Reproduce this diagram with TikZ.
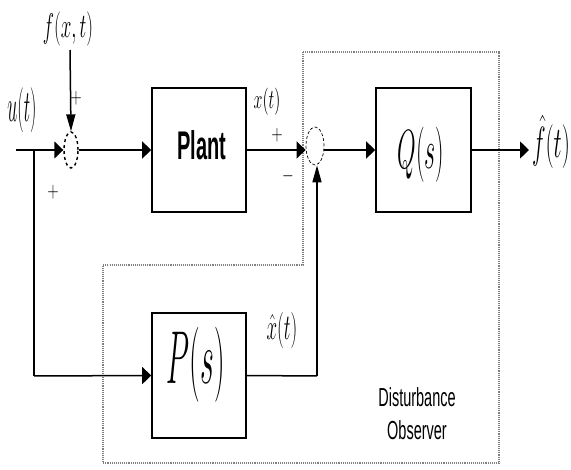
\RequirePackage{fix-cm}
\documentclass[tikz,border=0pt]{standalone}
\usepackage{graphicx}
\usepackage{fontspec}
\newfontfamily\lsans{Liberation Sans}
\usetikzlibrary{shapes.geometric,arrows.meta}
\newcommand\vstr[3]{\scalebox{1}[#2]{\fontsize{#1}{#1}\selectfont #3}}
\begin{document}
\begin{tikzpicture}[x=1pt,y=-1pt,
  blk/.style={draw, line width=1.6pt, minimum width=94pt, minimum height=124pt, inner sep=0pt},
  sumnode/.style={ellipse, draw, inner sep=0pt},
  sig/.style={line width=1.5pt},
  harr/.style={sig, -{Triangle[length=9pt,width=17pt]}},
  varr/.style={sig, -{Triangle[length=17pt,width=9pt]}},
  lbl/.style={inner sep=0pt},
  obs/.style={draw=gray, line width=1.1pt, densely dotted}]
\useasboundingbox (0,0) rectangle (571,470);
% observer boundary
\draw[obs] (303,52) -- (499,52) -- (499,463) -- (103,463) -- (103,265) -- (303,265) -- cycle;
% nodes
\coordinate (in) at (16,150);
\coordinate (br) at (34,150);
\coordinate (ftop) at (70,50);
\node[sumnode, dashed, line width=1.4pt, minimum width=14pt, minimum height=36pt] (s1) at (71,150) {};
\node[blk] (plant) at (199,150) {};
\node[lbl] (plantlbl) at (202,145) {\vstr{20}{2.0}{\lsans\bfseries Plant}};
\node[sumnode, densely dashed, line width=0.7pt, minimum width=18pt, minimum height=38pt] (s2) at (315,146) {};
\node[blk, minimum width=95pt] (Q) at (423.5,150) {};
\node[lbl] (Qlbl) at (421,155) {\vstr{24}{2.3}{$Q(s)$}};
\coordinate (out) at (529,150);
\node[blk, minimum height=125pt] (P) at (199,375.5) {};
\node[lbl] (Plbl) at (196,365) {\vstr{30}{2.5}{$P(s)$}};
\coordinate (pc) at (317,376);
\coordinate (pl) at (34,376);
% labels
\node[lbl] (flbl) at (68,29) {\vstr{19}{1.8}{$f(x,t)$}};
\node[lbl] (ulbl) at (22,110) {\vstr{18}{2.5}{$u(t)$}};
\node[lbl] (xlbl) at (267,102) {\vstr{16}{1.7}{$x(t)$}};
\node[lbl] (fhlbl) at (551,142) {\vstr{23}{1.9}{$\hat{f}(t)$}};
\node[lbl] (xhlbl) at (282,330) {\vstr{19}{1.9}{$\hat{x}(t)$}};
\node[lbl] (p1) at (76,98) {\vstr{15}{1.4}{$+$}};
\node[lbl] (p2) at (53,192) {\vstr{15}{1.4}{$+$}};
\node[lbl] (p3) at (277,135) {\vstr{15}{1.4}{$+$}};
\node[lbl] (m1) at (288,176) {\vstr{15}{1.4}{$-$}};
\node[lbl, align=center, font=\lsans\fontsize{14.5}{14.5}\selectfont] (dob) at (417,414)
  {\scalebox{1}[1.8]{Disturbance}\\[13pt]\scalebox{1}[1.8]{Observer}};
% connectors
\draw[harr] (in) -- (s1.west);
\draw[varr] (ftop) -- (s1.north);
\draw[harr] (s1.east) -- (plant.west);
\draw[harr] (plant.east) -- (plant.east -| s2.west);
\draw[harr] (s2.east |- Q.west) -- (Q.west);
\draw[harr] (Q.east) -- (out);
\draw[sig] (br) -- (pl);
\draw[harr] (pl) -- (P.west);
\draw[sig] (P.east) -- (pc);
\draw[varr] (pc) -- (pc |- s2.south);
\end{tikzpicture}
\end{document}
